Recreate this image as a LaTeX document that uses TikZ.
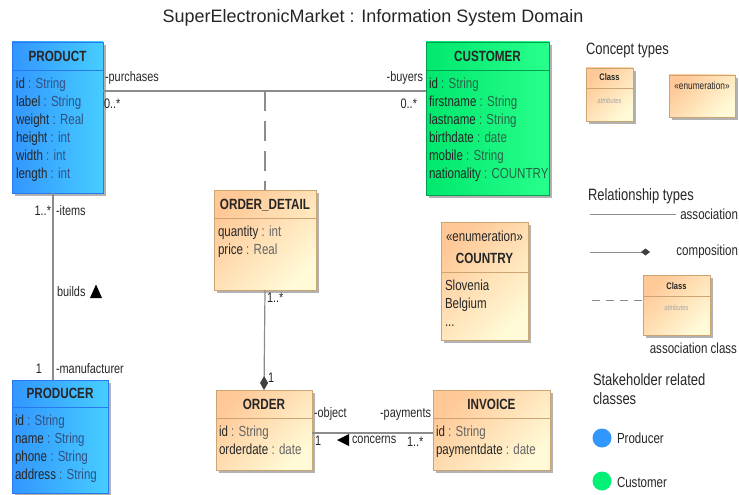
\documentclass[tikz,border=0pt]{standalone}
\usepackage{fontspec}
\setmainfont{Liberation Sans}[FakeStretch=0.79]
\newfontfamily\titlefont{Liberation Sans}
\usetikzlibrary{shadows,arrows.meta}
\definecolor{blueA}{RGB}{50,150,255}
\definecolor{blueB}{RGB}{70,205,255}
\definecolor{blueEdge}{RGB}{40,120,240}
\definecolor{greenA}{RGB}{0,232,110}
\definecolor{greenB}{RGB}{40,255,140}
\definecolor{greenEdge}{RGB}{0,160,80}
\definecolor{orA}{RGB}{255,200,150}
\definecolor{orB}{RGB}{255,250,215}
\definecolor{orEdge}{RGB}{205,165,115}
\definecolor{lineC}{RGB}{140,140,140}
\definecolor{typeO}{RGB}{100,100,100}
\definecolor{typeB}{RGB}{50,80,130}
\definecolor{typeG}{RGB}{40,100,70}
\definecolor{dotBlue}{RGB}{50,150,255}
\definecolor{dotGreen}{RGB}{0,240,120}
\newcommand\otype[1]{\textcolor{typeO}{#1}}
\newcommand\btype[1]{\textcolor{typeB}{#1}}
\newcommand\gtype[1]{\textcolor{typeG}{#1}}
\begin{document}
\begin{tikzpicture}[x=1pt,y=-1pt,
  every node/.style={inner sep=0pt, outer sep=0pt},
  box/.style={draw, line width=0.8pt, anchor=north west,
    drop shadow={shadow xshift=3pt,shadow yshift=-3pt,fill=black,opacity=0.3}},
  bluebox/.style={box, draw=blueEdge, left color=blueA, right color=blueB},
  greenbox/.style={box, draw=greenEdge, left color=greenA, right color=greenB},
  orangebox/.style={box, draw=orEdge, top color=orA, bottom color=orB, shading angle=45},
  hdr/.style={font=\fontsize{14.8}{16}\selectfont\bfseries, text=black!85},
  attrs/.style={anchor=north west, align=left, font=\fontsize{14.6}{18}\selectfont, text=black!85},
  lbl/.style={font=\fontsize{13.8}{15}\selectfont, text=black!85},
  legendhead/.style={font=\fontsize{16.4}{19}\selectfont, text=black!85},
  legendtxt/.style={font=\fontsize{14.6}{16}\selectfont, text=black!85},
  conn/.style={draw=lineC, line width=1.2pt},
  comp/.style={conn, -{Diamond[length=14pt,width=8pt,fill=black!75,color=black!75]}},
  tri/.style={fill=black},
]
\useasboundingbox (0,0) rectangle (739,495);

% title
\node[font=\titlefont\fontsize{18}{20}\selectfont, text=black!85] (title) at (373,18) {SuperElectronicMarket : Information System Domain};

% PRODUCT
\node[bluebox, minimum width=91pt, minimum height=151pt] (product) at (12,42) {};
\draw[blueEdge, line width=0.8pt] ([yshift=-28pt]product.north west) -- ([yshift=-28pt]product.north east);
\node[hdr] (product-t) at ([yshift=-14pt]product.north) {PRODUCT};
\node[attrs] (product-a) at ([xshift=4pt,yshift=-35.5pt]product.north west)
  {id \btype{: String}\\label \btype{: String}\\weight \btype{: Real}\\height \btype{: int}\\width \btype{: int}\\length \btype{: int}};

% CUSTOMER
\node[greenbox, minimum width=123pt, minimum height=153pt] (customer) at (426,42) {};
\draw[greenEdge, line width=0.8pt] ([yshift=-28pt]customer.north west) -- ([yshift=-28pt]customer.north east);
\node[hdr] (customer-t) at ([yshift=-14pt]customer.north) {CUSTOMER};
\node[attrs] (customer-a) at ([xshift=3pt,yshift=-35.5pt]customer.north west)
  {id \gtype{: String}\\firstname \gtype{: String}\\lastname \gtype{: String}\\birthdate \gtype{: date}\\mobile \gtype{: String}\\nationality \gtype{: COUNTRY}};

% ORDER_DETAIL
\node[orangebox, minimum width=102pt, minimum height=100pt] (detail) at (214,190) {};
\draw[orEdge, line width=0.8pt] ([yshift=-28pt]detail.north west) -- ([yshift=-28pt]detail.north east);
\node[hdr] (detail-t) at ([yshift=-15pt]detail.north) {ORDER\_DETAIL};
\node[attrs] (detail-a) at ([xshift=4pt,yshift=-35.5pt]detail.north west)
  {quantity \otype{: int}\\price \otype{: Real}};

% COUNTRY
\node[orangebox, minimum width=87pt, minimum height=118pt] (country) at (441,222) {};
\draw[orEdge, line width=0.8pt] ([yshift=-50pt]country.north west) -- ([yshift=-50pt]country.north east);
\node[font=\fontsize{14.6}{16}\selectfont, text=black!85] (country-s) at ([yshift=-14pt]country.north) {«enumeration»};
\node[hdr] (country-t) at ([yshift=-36pt]country.north) {COUNTRY};
\node[attrs] (country-a) at ([xshift=4pt,yshift=-57.5pt]country.north west)
  {Slovenia\\Belgium\\...};

% ORDER
\node[orangebox, minimum width=96pt, minimum height=80pt] (order) at (216,390) {};
\draw[orEdge, line width=0.8pt] ([yshift=-28pt]order.north west) -- ([yshift=-28pt]order.north east);
\node[hdr] (order-t) at ([yshift=-14pt]order.north) {ORDER};
\node[attrs] (order-a) at ([xshift=3pt,yshift=-35.5pt]order.north west)
  {id \otype{: String}\\orderdate \otype{: date}};

% INVOICE
\node[orangebox, minimum width=117pt, minimum height=80pt] (invoice) at (433,390) {};
\draw[orEdge, line width=0.8pt] ([yshift=-28pt]invoice.north west) -- ([yshift=-28pt]invoice.north east);
\node[hdr] (invoice-t) at ([yshift=-14pt]invoice.north) {INVOICE};
\node[attrs] (invoice-a) at ([xshift=3pt,yshift=-35.5pt]invoice.north west)
  {id \otype{: String}\\paymentdate \otype{: date}};

% PRODUCER
\node[bluebox, minimum width=96pt, minimum height=113pt] (producer) at (12,380) {};
\draw[blueEdge, line width=0.8pt] ([yshift=-27pt]producer.north west) -- ([yshift=-27pt]producer.north east);
\node[hdr] (producer-t) at ([yshift=-13pt]producer.north) {PRODUCER};
\node[attrs] (producer-a) at ([xshift=3pt,yshift=-34.5pt]producer.north west)
  {id \btype{: String}\\name \btype{: String}\\phone \btype{: String}\\address \btype{: String}};

% connectors
\coordinate (pc) at (265,91);
\coordinate (pp) at (53,0);
\draw[conn] (pc -| product.east) -- (pc -| customer.west);
\draw[conn, dash pattern=on 20pt off 10pt] (pc) -- (pc |- detail.north);
\draw[conn] (product.south -| pp) -- (producer.north -| pp);
\draw[comp] (detail.south) -- (order.north);
\draw[conn] ([yshift=-3pt]order.east) -- ([yshift=-3pt]order.east -| invoice.west);

% association labels
\node[lbl, anchor=west] (l1) at (105,78) {-purchases};
\node[lbl, anchor=west] (l2) at (104,104) {0..*};
\node[lbl, anchor=east] (l3) at (423,78) {-buyers};
\node[lbl, anchor=east] (l4) at (417,104) {0..*};
\node[lbl, anchor=east] (l5) at (51,211) {1..*};
\node[lbl, anchor=west] (l6) at (56,211) {-items};
\node[lbl, anchor=west] (l7) at (57,292) {builds};
\fill[tri] (96,284.5) -- (102,298) -- (90,298) -- cycle;
\node[lbl, anchor=east] (l8) at (42,369) {1};
\node[lbl, anchor=west] (l9) at (56,369) {-manufacturer};
\node[lbl, anchor=west] (l10) at (267,298) {1..*};
\node[lbl, anchor=west] (l11) at (268,378) {1};
\node[lbl, anchor=west] (l12) at (314,414) {-object};
\node[lbl, anchor=east] (l13) at (431,414) {-payments};
\node[lbl, anchor=west] (l14) at (315,441) {1};
\fill[tri] (337,440) -- (349,434) -- (349,446) -- cycle;
\node[lbl, anchor=west] (l15) at (352,440) {concerns};
\node[lbl, anchor=west] (l16) at (407,442) {1..*};

% legend: concept types
\node[legendhead, anchor=west] (lg1) at (586,50) {Concept types};
\node[orangebox, minimum width=47pt, minimum height=53pt] (lgclass) at (586,68) {};
\draw[orEdge, line width=0.8pt] ([yshift=-20pt]lgclass.north west) -- ([yshift=-20pt]lgclass.north east);
\node[font=\fontsize{9.5}{10}\selectfont\bfseries, text=black!85] (lgclass-t) at ([yshift=-9.5pt]lgclass.north) {Class};
\node[font=\fontsize{7.5}{8}\selectfont\itshape, text=black!35] (lgclass-a) at ([yshift=-33pt]lgclass.north) {attributes};
\node[orangebox, minimum width=66pt, minimum height=42pt] (lgenum) at (669,75) {};
\node[font=\fontsize{10.5}{11}\selectfont, text=black!85] (lgenum-t) at ([yshift=-11pt]lgenum.north) {«enumeration»};

% legend: relationship types
\node[legendhead, anchor=west] (lg2) at (588,196) {Relationship types};
\coordinate (ra1) at (590,214); \coordinate (ra2) at (676,214);
\draw[conn, line width=1pt] (ra1) -- (ra2);
\node[legendtxt, anchor=east] (lg3) at (738,214) {association};
\coordinate (rc1) at (590,252); \coordinate (rc2) at (650,252);
\draw[conn, line width=1pt, -{Diamond[length=9pt,width=7pt,fill=black!75,color=black!75]}] (rc1) -- (rc2);
\node[legendtxt, anchor=east] (lg4) at (738,252) {composition};
\node[orangebox, minimum width=67pt, minimum height=60pt] (lgac) at (643,275) {};
\draw[orEdge, line width=0.8pt] ([yshift=-21pt]lgac.north west) -- ([yshift=-21pt]lgac.north east);
\node[font=\fontsize{9.5}{10}\selectfont\bfseries, text=black!85] (lgac-t) at ([yshift=-11pt]lgac.north) {Class};
\node[font=\fontsize{7.5}{8}\selectfont\itshape, text=black!35] (lgac-a) at ([yshift=-33pt]lgac.north) {attributes};
\coordinate (rd1) at (592,300);
\draw[conn, line width=1pt, dash pattern=on 8pt off 6pt] (rd1) -- (rd1 -| lgac.west);
\node[legendtxt, anchor=east] (lg5) at (737,348) {association class};

% legend: stakeholders
\node[legendhead, anchor=north west, align=left] (lg6) at (593,374) {Stakeholder related\\classes};
\fill[dotBlue] (602,438) circle (9.5);
\node[legendtxt, anchor=west] (lg7) at (617,438) {Producer};
\fill[dotGreen] (602,481) circle (9.5);
\node[legendtxt, anchor=west] (lg8) at (617,482) {Customer};
\end{tikzpicture}
\end{document}
